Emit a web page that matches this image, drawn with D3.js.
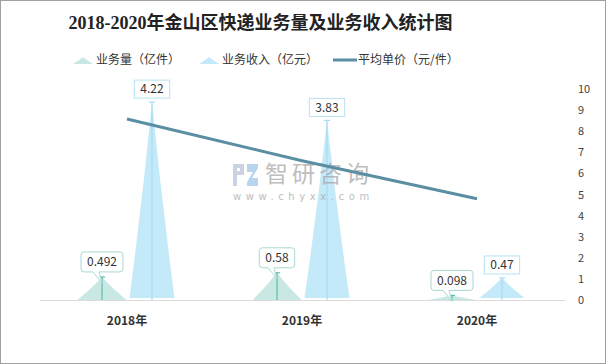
<!DOCTYPE html>
<html><head><meta charset="utf-8">
<script src="https://cdn.jsdelivr.net/npm/d3@7"></script>
<style>
html,body{margin:0;padding:0;background:#fff;}
svg{display:block;}
</style></head>
<body>
<script>
const categories = ["2018年", "2019年", "2020年"];
const volume = [0.492, 0.58, 0.098];      // 业务量（亿件）
const revenue = [4.22, 3.83, 0.47];       // 业务收入（亿元）
const unitPrice = [8.58, 6.60, 4.80];     // 平均单价（元/件）
const rightTicks = [0, 1, 2, 3, 4, 5, 6, 7, 8, 9, 10];
const seriesNames = ["业务量（亿件）", "业务收入（亿元）", "平均单价（元/件）"];
const titleText = "2018-2020年金山区快递业务量及业务收入统计图";

const W = 606, H = 364;
const cjk = "'Noto Sans CJK SC','Noto Sans',sans-serif";
const colVol = "#c9e8e3", colVolLine = "#5cbcae", colVolBox = "#a9d9d2";
const colRev = "#c4e9f8", colRevLine = "#a6dcf2", colRevBox = "#b6e2f4";
const colPrice = "#5a8ea2";

const svg = d3.select("body").append("svg").attr("width", W).attr("height", H);
svg.append("rect").attr("x", 0.5).attr("y", 0.5).attr("width", W - 1).attr("height", H - 1)
  .attr("fill", "#fff").attr("stroke", "#a0a0a0");

// scales
const x = d3.scaleBand().domain(categories).range([39.5, 564.5]);
const yL = d3.scaleLinear().domain([0, 4.5]).range([300, 89]);
const yR = d3.scaleLinear().domain([0, 10]).range([300, 89]);
const off = 25, halfVol = 24.5, halfRev = 22.5;

// title
svg.append("text").attr("x", 260.5).attr("y", 23).attr("dy", "0.36em")
  .attr("text-anchor", "middle")
  .style("font-family", "'Liberation Serif','DejaVu Serif','Noto Sans CJK SC',serif")
  .style("font-weight", "bold").style("font-size", "18px").attr("fill", "#222")
  .text(titleText);

// spike path
function spike(cx, base, top, w) {
  const h = base - top;
  return `M${cx - w},${base} Q${cx - w * 0.43},${base - h * 0.5} ${cx},${top} Q${cx + w * 0.43},${base - h * 0.5} ${cx + w},${base} Z`;
}

// legend
const lg = svg.append("g").style("font-family", cjk).style("font-size", "12px");
lg.append("path").attr("d", spike(83, 64, 57, 10)).attr("fill", colVol);
lg.append("text").attr("x", 96).attr("y", 60).attr("dy", "0.35em").attr("fill", "#333").text(seriesNames[0]);
lg.append("path").attr("d", spike(209, 64, 57, 10)).attr("fill", colRev);
lg.append("text").attr("x", 222).attr("y", 60).attr("dy", "0.35em").attr("fill", "#333").text(seriesNames[1]);
lg.append("line").attr("x1", 333).attr("x2", 357).attr("y1", 60).attr("y2", 60)
  .attr("stroke", colPrice).attr("stroke-width", 3);
lg.append("text").attr("x", 358).attr("y", 60).attr("dy", "0.35em").attr("fill", "#333").text(seriesNames[2]);

// x axis
const xAxis = svg.append("g").attr("transform", "translate(0,300)")
  .call(d3.axisBottom(x).tickSize(0).tickPadding(16));
xAxis.select(".domain").attr("stroke", "#dcdcdc");
xAxis.selectAll("text").style("font-family", cjk).style("font-weight", "bold")
  .style("font-size", "12px").attr("fill", "#333");

// right axis
const rAxis = svg.append("g").attr("transform", "translate(565,0)")
  .call(d3.axisRight(yR).tickValues(rightTicks).tickSize(0).tickPadding(13));
rAxis.select(".domain").remove();
rAxis.selectAll("text").style("font-family", cjk).style("font-size", "11px").attr("fill", "#444");

const cx = (d, s) => x(d) + x.bandwidth() / 2 + s * off;

// bars: volume
const gV = svg.append("g");
categories.forEach((c, i) => {
  const px = cx(c, -1), top = yL(volume[i]);
  gV.append("path").attr("d", spike(px, 300, top, halfVol)).attr("fill", colVol);
  gV.append("line").attr("x1", px).attr("x2", px).attr("y1", 300).attr("y2", top)
    .attr("stroke", colVolLine).attr("stroke-width", 1.2);
  gV.append("line").attr("x1", px - 3).attr("x2", px + 3).attr("y1", top).attr("y2", top)
    .attr("stroke", colVolLine).attr("stroke-width", 1.2);
});
// bars: revenue
const gR = svg.append("g");
categories.forEach((c, i) => {
  const px = cx(c, 1), top = yL(revenue[i]);
  gR.append("path").attr("d", spike(px, 298, top, halfRev)).attr("fill", colRev);
  gR.append("line").attr("x1", px).attr("x2", px).attr("y1", 300).attr("y2", top)
    .attr("stroke", colRevLine).attr("stroke-width", 1.2);
  gR.append("line").attr("x1", px - 3).attr("x2", px + 3).attr("y1", top).attr("y2", top)
    .attr("stroke", colRevLine).attr("stroke-width", 1.2);
});

// watermark
const wm = svg.append("g").attr("opacity", 0.75);
wm.append("rect").attr("x", 233).attr("y", 164).attr("width", 11).attr("height", 4).attr("fill", "#b9c4dc");
wm.append("rect").attr("x", 233).attr("y", 171).attr("width", 11).attr("height", 4).attr("fill", "#b9c4dc");
wm.append("rect").attr("x", 233).attr("y", 164).attr("width", 4).attr("height", 22).attr("fill", "#b9c4dc");
wm.append("rect").attr("x", 240).attr("y", 164).attr("width", 4).attr("height", 11).attr("fill", "#b9c4dc");
wm.append("path").attr("d", "M247,164 L258,164 L258,168 L252,178 L258,178 L258,186 L247,186 L247,182 L253,172 L247,172 Z").attr("fill", "#9fc8ea");
wm.append("text").attr("x", 265).attr("y", 174).attr("dy", "0.36em")
  .style("font-family", cjk).style("font-size", "23px").style("letter-spacing", "4px")
  .attr("fill", "#a9a9a9").text("智研咨询");
wm.append("text").attr("x", 233).attr("y", 196).attr("dy", "0.35em")
  .style("font-family", "'DejaVu Sans',sans-serif").style("font-size", "10px").style("letter-spacing", "4.6px")
  .attr("fill", "#a9a9a9").text("www.chyxx.com");

// price line
const line = d3.line().x((d, i) => cx(categories[i], 0)).y(d => yR(d));
svg.append("path").datum(unitPrice).attr("d", line).attr("fill", "none")
  .attr("stroke", colPrice).attr("stroke-width", 3);

// labels
function label(px, top, text, boxColor, callout) {
  const g = svg.append("g");
  const t = g.append("text").attr("x", px).attr("text-anchor", "middle")
    .style("font-family", cjk).style("font-size", "12px").attr("fill", "#333").text(text);
  const tw = t.node().getComputedTextLength();
  const bw = tw + 12, bh = callout ? 20 : 18;
  const bottom = top - (callout ? 5 : 4);
  const bx = px - bw / 2, by = bottom - bh;
  if (callout) {
    g.insert("path", "text").attr("d",
      `M${bx + 3},${by} L${bx + bw - 3},${by} Q${bx + bw},${by} ${bx + bw},${by + 3} L${bx + bw},${bottom - 3} Q${bx + bw},${bottom} ${bx + bw - 3},${bottom} L${px - 3},${bottom} L${px},${top + 6} L${px - 9},${bottom} L${bx + 3},${bottom} Q${bx},${bottom} ${bx},${bottom - 3} L${bx},${by + 3} Q${bx},${by} ${bx + 3},${by} Z`)
      .attr("fill", "rgba(255,255,255,0.85)").attr("stroke", boxColor).attr("stroke-width", 1);
  } else {
    g.insert("rect", "text").attr("x", bx).attr("y", by).attr("width", bw).attr("height", bh)
      .attr("fill", "#fff").attr("stroke", boxColor).attr("stroke-width", 1);
  }
  t.attr("y", by + bh / 2).attr("dy", "0.36em");
}
categories.forEach((c, i) => {
  label(cx(c, -1), yL(volume[i]), String(volume[i]), colVolBox, true);
  label(cx(c, 1), yL(revenue[i]), String(revenue[i]), colRevBox, false);
});
</script>
</body></html>
